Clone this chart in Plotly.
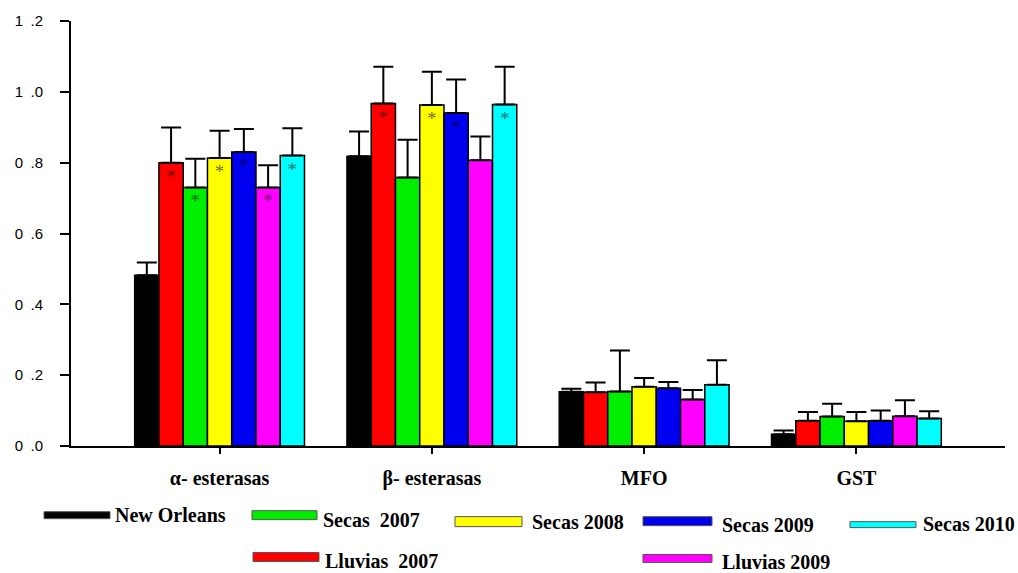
import plotly.graph_objects as go

# ---------------- data ----------------
categories = ["α- esterasas", "β- esterasas", "MFO", "GST"]

series_names = ["New Orleans", "Lluvias 2007", "Secas 2007", "Secas 2008",
                "Secas 2009", "Lluvias 2009", "Secas 2010"]

new_orleans   = [0.482, 0.818, 0.153, 0.033]
lluvias_2007  = [0.800, 0.967, 0.152, 0.071]
secas_2007    = [0.730, 0.758, 0.154, 0.083]
secas_2008    = [0.813, 0.963, 0.167, 0.070]
secas_2009    = [0.830, 0.940, 0.163, 0.071]
lluvias_2009  = [0.730, 0.807, 0.131, 0.084]
secas_2010    = [0.820, 0.964, 0.173, 0.078]

err_new_orleans  = [0.036, 0.070, 0.009, 0.011]
err_lluvias_2007 = [0.099, 0.104, 0.027, 0.025]
err_secas_2007   = [0.081, 0.107, 0.116, 0.036]
err_secas_2008   = [0.077, 0.094, 0.025, 0.026]
err_secas_2009   = [0.065, 0.095, 0.018, 0.029]
err_lluvias_2009 = [0.063, 0.067, 0.027, 0.045]
err_secas_2010   = [0.077, 0.107, 0.069, 0.020]

stars_new_orleans  = ["", "", "", ""]
stars_lluvias_2007 = ["*", "*", "", ""]
stars_secas_2007   = ["*", "", "", ""]
stars_secas_2008   = ["*", "*", "", ""]
stars_secas_2009   = ["*", "*", "", ""]
stars_lluvias_2009 = ["*", "", "", ""]
stars_secas_2010   = ["*", "*", "", ""]

y_tickvals = [0.0, 0.2, 0.4, 0.6, 0.8, 1.0, 1.2]
y_ticktext = ["0\u2002.0", "0\u2002.2", "0\u2002.4", "0\u2002.6",
              "0\u2002.8", "1\u2002.0", "1\u2002.2"]

values = [new_orleans, lluvias_2007, secas_2007, secas_2008,
          secas_2009, lluvias_2009, secas_2010]
errors = [err_new_orleans, err_lluvias_2007, err_secas_2007, err_secas_2008,
          err_secas_2009, err_lluvias_2009, err_secas_2010]
stars = [stars_new_orleans, stars_lluvias_2007, stars_secas_2007,
         stars_secas_2008, stars_secas_2009, stars_lluvias_2009,
         stars_secas_2010]

# ---------------- styles ----------------
colors = ["#000000", "#FF0000", "#00EE00", "#FFFF00", "#0000F0",
          "#FF00FF", "#00FFFF"]

W, H = 1018, 573
ML, MR, MT, MB = 71, 13, 19, 127
PW, PH = W - ML - MR, H - MT - MB

fig = go.Figure()
for name, vals, errs, st, col in zip(series_names, values, errors, stars, colors):
    fig.add_trace(go.Bar(
        name=name, x=categories, y=vals,
        marker=dict(color=col, line=dict(color="#000000", width=1.5)),
        error_y=dict(type="data", symmetric=False, array=errs,
                     arrayminus=[0] * len(errs), color="#000000",
                     thickness=2, width=10),
        text=st, textposition="inside", insidetextanchor="end",
        textangle=0, constraintext="none",
        insidetextfont=dict(family="Liberation Serif", size=19,
                            color="rgba(0,0,0,0.6)"),
        showlegend=False,
    ))

# ---------------- custom legend (pixel layout -> paper coords) ----------------
def px_x(px):
    return (px - ML) / PW


def px_y(py):
    return (H - MB - py) / PH


legend_layout = {
    # name: (swatch x0, x1, y0, y1, text x, text center y)
    "New Orleans":  (44, 110, 512, 519, 113, 515),
    "Secas 2007":   (252, 317, 511, 520, 321, 520),
    "Secas 2008":   (455, 522, 517, 527, 530, 522),
    "Secas 2009":   (643, 712, 517, 526, 720, 525),
    "Secas 2010":   (850, 916, 522, 528, 921, 524),
    "Lluvias 2007": (253, 319, 553, 562, 323, 562),
    "Lluvias 2009": (643, 712, 555, 563, 720, 563),
}
legend_labels = {
    "Secas 2007": "Secas\u00a0 2007",
    "Lluvias 2007": "Lluvias\u00a0 2007",
}

shapes = []
annotations = []
for name, col in zip(series_names, colors):
    x0, x1, y0, y1, tx, ty = legend_layout[name]
    shapes.append(dict(type="rect", xref="paper", yref="paper",
                       x0=px_x(x0), x1=px_x(x1), y0=px_y(y1), y1=px_y(y0),
                       fillcolor=col, line=dict(color="#555555", width=1),
                       layer="above"))
    annotations.append(dict(xref="paper", yref="paper", x=px_x(tx), y=px_y(ty),
                            xanchor="left", yanchor="middle", showarrow=False,
                            text=legend_labels.get(name, name),
                            font=dict(family="Liberation Serif", size=20,
                                      color="#000000", weight="bold")))

fig.update_layout(
    width=W, height=H,
    margin=dict(l=ML, r=MR, t=MT, b=MB, pad=0),
    barmode="group", bargap=0.2, bargroupgap=0,
    plot_bgcolor="#FFFFFF", paper_bgcolor="#FFFFFF",
    shapes=shapes, annotations=annotations,
    showlegend=False,
)
fig.update_xaxes(
    range=[-0.7, 3.7], showline=True, linewidth=2, linecolor="#000000",
    ticks="outside", ticklen=6, tickwidth=1.5, tickcolor="#000000",
    ticklabelstandoff=7, showgrid=False, zeroline=False,
    tickfont=dict(family="Liberation Serif", size=20, color="#000000",
                  weight="bold"),
)
fig.update_yaxes(
    range=[0, 1.2], tickvals=y_tickvals, ticktext=y_ticktext,
    showline=True, linewidth=2, linecolor="#000000",
    ticks="outside", ticklen=9, tickwidth=1.5, tickcolor="#000000",
    ticklabelstandoff=14, showgrid=False, zeroline=False,
    tickfont=dict(family="Liberation Sans", size=15, color="#000000"),
)

fig.write_html(
    "out.html",
    config={"displayModeBar": False},
    post_script="document.body.style.margin='0';document.body.style.overflow='hidden';",
)
